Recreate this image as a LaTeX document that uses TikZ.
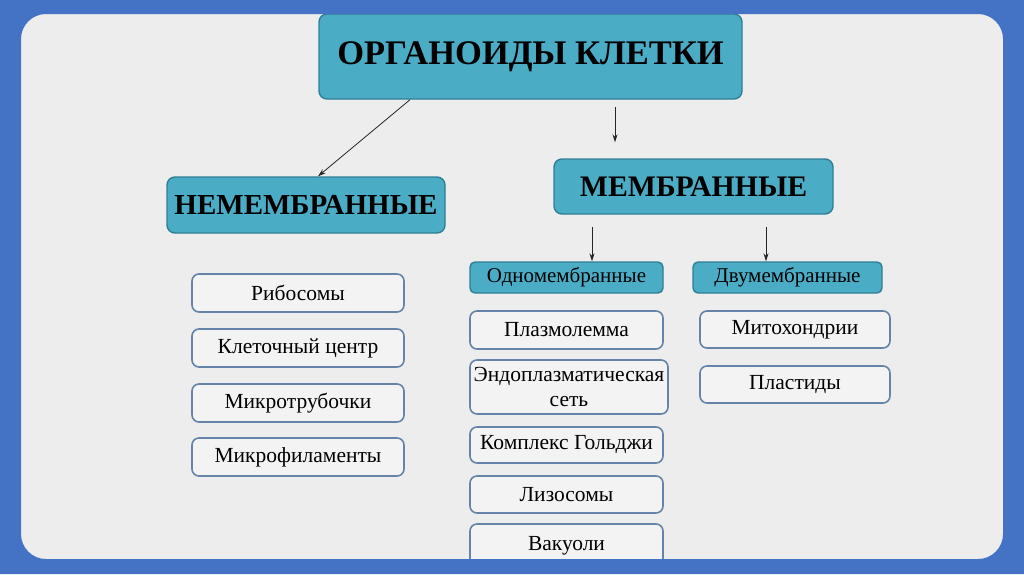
\documentclass[tikz,border=0pt]{standalone}
\usepackage{fontspec}
\setmainfont{Liberation Serif}
\usetikzlibrary{arrows.meta}
\definecolor{framec}{HTML}{4472C4}
\definecolor{panelc}{HTML}{EDEDED}
\definecolor{tealc}{HTML}{4BACC6}
\definecolor{tealdark}{HTML}{2F7F94}
\definecolor{boxfill}{HTML}{F3F3F3}
\definecolor{boxline}{HTML}{6584A8}
\tikzset{
  headbox/.style={rounded corners=8pt, fill=tealc, draw=tealdark, line width=1.4pt, inner sep=0pt, align=center},
  itembox/.style={rounded corners=7pt, fill=boxfill, draw=boxline, line width=1.6pt, inner sep=0pt, align=center, font=\fontsize{21.5}{25}\selectfont},
  subbox/.style={rounded corners=5pt, fill=tealc, draw=tealdark, line width=1.4pt, inner sep=0pt, align=center, font=\fontsize{21}{24}\selectfont},
  arr/.style={-{Stealth[length=8pt,width=5pt]}, line width=0.8pt, black!85}
}
\begin{document}
\begin{tikzpicture}[x=1pt,y=-1pt]
\useasboundingbox (0,0) rectangle (1024,574);
\fill[panelc] (0,0) rectangle (1024,574);
% headers
\node[headbox, minimum width=423pt, minimum height=85pt, font=\bfseries\fontsize{34.5}{40}\selectfont] (title) at (530.5,56.5) {\raisebox{-3pt}{ОРГАНОИДЫ КЛЕТКИ}};
\node[headbox, minimum width=278pt, minimum height=56pt, font=\bfseries\fontsize{29}{32}\selectfont] (nemem) at (306,205) {НЕМЕМБРАННЫЕ};
\node[headbox, minimum width=279pt, minimum height=55pt, font=\bfseries\fontsize{29.8}{32}\selectfont] (mem) at (693.5,186.5) {МЕМБРАННЫЕ};
\node[subbox, minimum width=193pt, minimum height=31pt] (odno) at (566.5,277.5) {Одномембранные};
\node[subbox, minimum width=189pt, minimum height=31pt] (dvu) at (787.5,277.5) {Двумембранные};
% non-membrane
\node[itembox, minimum width=212pt, minimum height=38pt] (rib) at (298,293) {\raisebox{-2pt}{Рибосомы}};
\node[itembox, minimum width=212pt, minimum height=38pt] (klet) at (298,348) {\raisebox{-2pt}{Клеточный центр}};
\node[itembox, minimum width=212pt, minimum height=38pt] (mtr) at (298,403) {\raisebox{-2pt}{Микротрубочки}};
\node[itembox, minimum width=212pt, minimum height=38pt] (mfil) at (298,457) {\raisebox{-2pt}{Микрофиламенты}};
% single membrane
\node[itembox, minimum width=193pt, minimum height=38pt] (plaz) at (566.5,330) {Плазмолемма};
\node[itembox, minimum width=198pt, minimum height=54pt, font=\fontsize{21.5}{25}\selectfont] (endo) at (569,387) {Эндоплазматическая\\сеть};
\node[itembox, minimum width=193pt, minimum height=36pt] (golgi) at (566.5,445) {Комплекс Гольджи};
\node[itembox, minimum width=193pt, minimum height=37pt] (lizo) at (566.5,494.5) {Лизосомы};
\node[itembox, minimum width=193pt, minimum height=44pt] (vak) at (566.5,546) {\raisebox{4pt}{Вакуоли}};
% double membrane
\node[itembox, minimum width=190pt, minimum height=37pt] (mito) at (795,329.5) {Митохондрии};
\node[itembox, minimum width=190pt, minimum height=37pt] (plast) at (795,384.5) {Пластиды};
% arrows
\draw[arr] ([xshift=-120.5pt]title.south) -- ([xshift=12pt]nemem.north);
\draw[arr] ([xshift=84.5pt,yshift=-7pt]title.south) -- ([xshift=-78.5pt,yshift=16pt]mem.north);
\draw[arr] ([xshift=-101.5pt,yshift=-12pt]mem.south) -- ([xshift=25.5pt]odno.north);
\draw[arr] ([xshift=72.5pt,yshift=-12pt]mem.south) -- ([xshift=-21.5pt]dvu.north);
% frame
\fill[framec, even odd rule] (0,0) rectangle (1024,574) [rounded corners=25pt] (21,14) rectangle (1003,559);
\end{tikzpicture}
\end{document}
